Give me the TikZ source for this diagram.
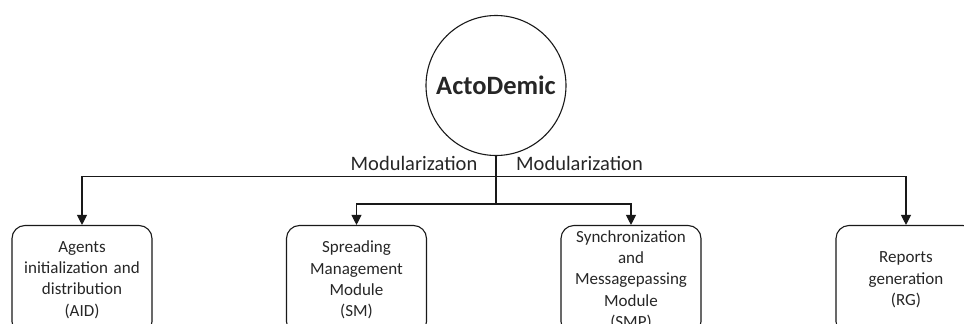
\documentclass[tikz,border=0pt]{standalone}
\usepackage{fontspec}
\setmainfont{Carlito}
\usetikzlibrary{arrows.meta}

\tikzset{
  link/.style={line width=1.1pt, draw=black!90},
  arrowlink/.style={link, -{Triangle[width=10pt,length=10pt]}},
  rootnode/.style={circle, draw=black!90, line width=1.1pt, minimum size=140pt,
                   inner sep=0pt, font=\fontsize{26.5}{31}\selectfont\bfseries, text=black!85},
  modbox/.style={rectangle, rounded corners=13pt, draw=black!90, line width=1.1pt,
                 minimum width=140pt, minimum height=109pt, inner sep=2pt,
                 text width=134pt, align=center,
                 font=\fontsize{17}{21.3}\selectfont, text=black!85},
  edgelabel/.style={font=\fontsize{20.5}{24}\selectfont, text=black!85, inner sep=0pt}
}

\begin{document}
\begin{tikzpicture}[x=1pt, y=-1pt]
  \useasboundingbox (0,0) rectangle (964,324);
  \clip (0,0) rectangle (964,324);

  % root of the hierarchy
  \node[rootnode] (root) at (496,85.5) {ActoDemic};

  % the four modules
  \node[modbox] (aid) at (82,280)  {Agents\\initialization and\\distribution\\(AID)};
  \node[modbox] (sm)  at (356.5,280) {Spreading\\Management\\Module\\(SM)};
  \node[modbox] (smp) at (631,280) {Synchronization\\and\\Messagepassing\\Module\\(SMP)};
  \node[modbox] (rg)  at (906,280) {Reports\\generation\\(RG)};

  % junction points below the root
  \coordinate (upper) at (496,176.5);
  \coordinate (lower) at (496,204);

  % connectors
  \draw[link] (root.south) -- (lower);
  \draw[arrowlink] (upper) -| (aid.north);
  \draw[arrowlink] (upper) -| (rg.north);
  \draw[arrowlink] (lower) -| (sm.north);
  \draw[arrowlink] (lower) -| (smp.north);

  % labels
  \node[edgelabel, anchor=base] (lblL) at (414,170.5) {Modularization};
  \node[edgelabel, anchor=base] (lblR) at (579.5,170.5) {Modularization};
\end{tikzpicture}
\end{document}
